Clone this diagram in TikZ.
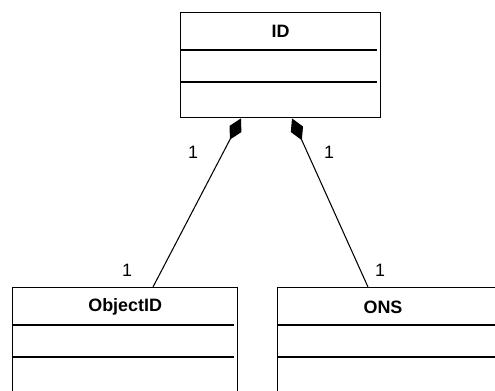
\documentclass[tikz,border=0pt]{standalone}
\usepackage{fontspec}
\setmainfont{Liberation Sans}
\usetikzlibrary{arrows.meta,calc}

\tikzset{
  classbox/.style={draw,line width=0.8pt,anchor=north west,minimum height=2.4cm},
  classname/.style={font=\fontsize{10.2}{12}\selectfont\bfseries},
  multlabel/.style={font=\fontsize{10.2}{12}\selectfont},
  compos/.style={line width=0.6pt,-{Diamond[length=13.6pt,width=7.6pt]}}
}

\begin{document}
\begin{tikzpicture}[x=0.02cm,y=-0.02cm]
\useasboundingbox (0,0) rectangle (495,390);
\clip (0,0) rectangle (495,390);
% classes
\node[classbox,minimum width=4cm,minimum height=2.1cm] (idbox) at (180,12) {};
\node[classbox,minimum width=4.5cm] (objbox) at (12,287) {};
\node[classbox,minimum width=6cm] (onsbox) at (277,287) {};
\node[classname] (idname) at ($(idbox.north)+(0,19)$) {ID};
\node[classname] (objname) at ($(objbox.north)+(0,20)$) {ObjectID};
\node[classname] (onsname) at ($(onsbox.north west)+(106,20)$) {ONS};
\foreach \b in {idbox,objbox,onsbox}
  \foreach \dy in {38,70}
    \draw[line width=0.7pt] ($(\b.north west)+(1,\dy)$) -- ($(\b.north east)+(-4,\dy)$);
% composition links
\coordinate (objtop) at ($(objbox.north west)+(141,0)$);
\coordinate (onstop) at ($(onsbox.north west)+(91,0)$);
\coordinate (idleft) at ($(idbox.south west)+(61,0)$);
\coordinate (idright) at ($(idbox.south west)+(112,0)$);
\draw[compos] (objtop) -- (idleft);
\draw[compos] (onstop) -- (idright);
\node[multlabel] (multa) at (193,152) {1};
\node[multlabel] (multb) at (329,152) {1};
\node[multlabel] (multc) at (127,270) {1};
\node[multlabel] (multd) at (380,270) {1};
\end{tikzpicture}
\end{document}
